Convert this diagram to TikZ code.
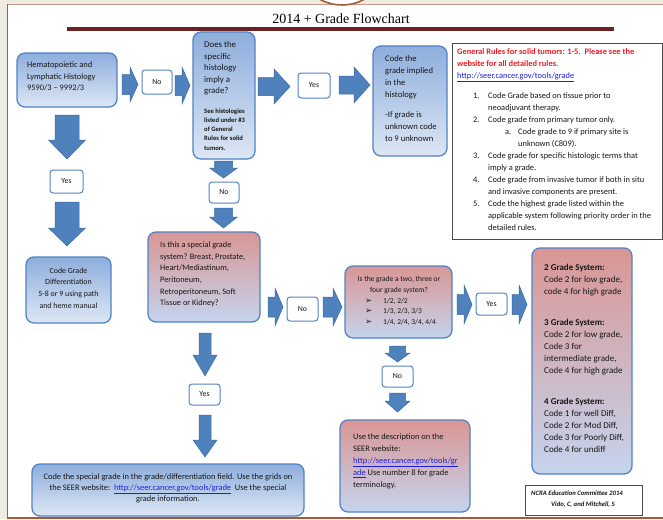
\documentclass[tikz,border=0pt]{standalone}
\usepackage{fontspec}
\setmainfont{Carlito}
\newfontfamily\titlefont{Liberation Serif}
\newfontfamily\symfont{DejaVu Sans}
\definecolor{pagebeige}{HTML}{EEEBE1}
\definecolor{topline}{HTML}{C49A8A}
\definecolor{leftline}{HTML}{A0603A}
\definecolor{bottomline}{HTML}{B5532F}
\definecolor{titlebar}{HTML}{6B2222}
\definecolor{boxline}{HTML}{5283C4}
\definecolor{bluetop}{HTML}{8EAEDC}
\definecolor{bluebot}{HTML}{DDE7F5}
\definecolor{redtop}{HTML}{D99694}
\definecolor{redbot}{HTML}{C5D4EE}
\definecolor{arrowblue}{HTML}{4F81BD}
\definecolor{arrowline}{HTML}{3D6BA6}
\definecolor{rulered}{HTML}{EE1C25}
\definecolor{linkblue}{HTML}{1F1FE0}
\definecolor{textgray}{HTML}{161616}
\tikzset{
  bluebox/.style={draw=boxline, line width=1.3pt, rounded corners=8pt, top color=bluetop, bottom color=bluebot, inner sep=0pt},
  redbox/.style={draw=boxline, line width=1.3pt, rounded corners=8pt, top color=redtop, bottom color=redbot, inner sep=0pt},
  tag/.style={draw=boxline, line width=1pt, fill=white, rounded corners=3pt, inner sep=0pt, font=\fontsize{7.8}{9}\selectfont, text=textgray},
  txt/.style={inner sep=0pt, align=left, anchor=north west, text=textgray},
  ctxt/.style={inner sep=0pt, align=center, text=textgray},
  blockarrow/.style={fill=arrowblue, draw=arrowline, line width=0.5pt},
  plainbox/.style={draw=black!70, line width=0.9pt, fill=white, inner sep=0pt}
}
\newcommand{\FCrarrow}[6]{% x0 x1 yc shafthalf headhalf headlen
  \filldraw[blockarrow] (#1,#3-#4) -- (#2-#6,#3-#4) -- (#2-#6,#3-#5) -- (#2,#3) -- (#2-#6,#3+#5) -- (#2-#6,#3+#4) -- (#1,#3+#4) -- cycle;}
\newcommand{\FCdarrow}[6]{% xc y0 y1 shafthalf headhalf headlen
  \filldraw[blockarrow] (#1-#4,#2) -- (#1-#4,#3-#6) -- (#1-#5,#3-#6) -- (#1,#3) -- (#1+#5,#3-#6) -- (#1+#4,#3-#6) -- (#1+#4,#2) -- cycle;}
\newcommand{\FCbul}{\makebox[18pt][l]{\symfont\fontsize{8.5}{8}\selectfont ➢}}
\begin{document}
\begin{tikzpicture}[x=1pt,y=-1pt]
\useasboundingbox (0,0) rectangle (663,519);
% page
\fill[pagebeige] (0,0) rectangle (663,519);
\fill[white] (7.5,4.5) rectangle (663,518);
\draw[topline, line width=1.4pt] (7.5,4.5) -- (663,4.5);
\draw[leftline, line width=1.2pt] (7.5,4.5) -- (7.5,519);
\draw[bottomline, line width=1.5pt] (7.5,518) -- (663,518);
\begin{scope}
\clip (0,0) rectangle (663,519);
\draw[leftline, line width=1.6pt, fill=white] (342,-41.6) circle (46.6);
\end{scope}
% title
\node[inner sep=0pt, font=\titlefont\fontsize{14}{16}\selectfont, text=black] (title) at (341,18.5) {2014 + Grade Flowchart};
\fill[titlebar] (67,27) rectangle (614,31);

% main boxes
\node[bluebox, minimum width=100pt, minimum height=54pt] (hema) at (67,80) {};
\node[bluebox, minimum width=62pt, minimum height=127pt] (hist) at (224,95.5) {};
\node[bluebox, minimum width=74pt, minimum height=110pt] (implied) at (410,101) {};
\node[plainbox, minimum width=210pt, minimum height=196pt] (rules) at (557,141) {};
\node[redbox, minimum width=112pt, minimum height=90pt] (special) at (204,277) {};
\node[bluebox, minimum width=85pt, minimum height=66pt] (codegrade) at (68.5,290) {};
\node[redbox, minimum width=107pt, minimum height=72pt] (twothree) at (398.5,302) {};
\node[redbox, minimum width=100pt, minimum height=226pt] (systems) at (582,361) {};
\node[redbox, minimum width=130pt, minimum height=92pt] (desc) at (405,466) {};
\node[plainbox, minimum width=117pt, minimum height=30pt] (ncra) at (583.5,500) {};
\node[bluebox, minimum width=272pt, minimum height=52pt] (specgrade) at (168,490) {};

% small tags
\node[tag, minimum width=30pt, minimum height=24pt] (no1) at (157,82) {No};
\node[tag, minimum width=32pt, minimum height=25pt] (yes1) at (314,85.5) {Yes};
\node[tag, minimum width=30pt, minimum height=21pt] (no2) at (224,192.5) {No};
\node[tag, minimum width=33pt, minimum height=23pt] (yesL) at (66.5,181.5) {Yes};
\node[tag, minimum width=31pt, minimum height=24pt] (no3) at (302.5,309) {No};
\node[tag, minimum width=31pt, minimum height=22pt] (yes2) at (491.5,304) {Yes};
\node[tag, minimum width=31pt, minimum height=21pt] (no4) at (397.5,376.5) {No};
\node[tag, minimum width=31pt, minimum height=21pt] (yes3) at (204.5,394.5) {Yes};

% block arrows
\FCrarrow{122}{138}{84.5}{10}{17.5}{8}
\FCrarrow{175}{190}{85.5}{10}{18.5}{8}
\FCrarrow{258}{290}{86.5}{9}{17.5}{16}
\FCrarrow{339}{370}{85}{9}{18}{16}
\FCrarrow{268}{283}{307}{10}{19}{8}
\FCrarrow{323}{342}{307}{10}{19}{9}
\FCrarrow{457}{472}{304.5}{10}{19.5}{8}
\FCrarrow{512}{527}{304.5}{10}{19.5}{8}
\FCdarrow{67}{115}{159}{12}{18.5}{19}
\FCdarrow{67}{202}{246}{12}{18.5}{18}
\FCdarrow{223.5}{161}{178}{9}{14}{10}
\FCdarrow{223.5}{208}{228}{9}{14}{11}
\FCdarrow{205}{333}{376}{6}{12}{21}
\FCdarrow{205}{415}{457}{6}{12}{17}
\FCdarrow{397.5}{346}{362}{8}{12.5}{9}
\FCdarrow{397.5}{393}{412}{8}{12.5}{11}

% texts
\node[txt, font=\fontsize{8.4}{11.5}\selectfont] (hema-t) at (27,61.5) {Hematopoietic and\\Lymphatic Histology\\9590/3 – 9992/3};
\node[txt, font=\fontsize{8.8}{11.5}\selectfont] (hist-t) at (204,41.3) {Does the\\specific\\histology\\imply a\\grade?};
\node[txt, font=\bfseries\fontsize{6.6}{9.3}\selectfont] (hist-s) at (204,108.2) {See histologies\\listed under \#3\\of General\\Rules for solid\\tumors.};
\node[txt, font=\fontsize{8.6}{12}\selectfont] (implied-t) at (385,55.4) {Code the\\grade implied\\in the\\histology\\[8pt]-If grade is\\unknown code\\to 9 unknown};
\node[txt, font=\fontsize{8.4}{12}\selectfont] (rules-t) at (457,48.5) {%
\textcolor{rulered}{\bfseries General Rules for solid tumors: 1-5.\ \ Please see the}\\
\textcolor{rulered}{\bfseries website for all detailed rules.}\\
\textcolor{linkblue}{\underline{http://seer.cancer.gov/tools/grade}}\\[8pt]
\hspace*{16pt}\makebox[15pt][l]{1.}Code Grade based on tissue prior to\\
\hspace*{31pt}neoadjuvant therapy.\\
\hspace*{16pt}\makebox[15pt][l]{2.}Code grade from primary tumor only.\\
\hspace*{48pt}\makebox[13pt][l]{a.}Code grade to 9 if primary site is\\
\hspace*{61pt}unknown (C809).\\
\hspace*{16pt}\makebox[15pt][l]{3.}Code grade for specific histologic terms that\\
\hspace*{31pt}imply a grade.\\
\hspace*{16pt}\makebox[15pt][l]{4.}Code grade from invasive tumor if both in situ\\
\hspace*{31pt}and invasive components are present.\\
\hspace*{16pt}\makebox[15pt][l]{5.}Code the highest grade listed within the\\
\hspace*{31pt}applicable system following priority order in the\\
\hspace*{31pt}detailed rules.};
\node[txt, font=\fontsize{8.3}{11.7}\selectfont] (special-t) at (160,241.5) {Is this a special grade\\system? Breast, Prostate,\\Heart/Mediastinum,\\Peritoneum,\\Retroperitoneum, Soft\\Tissue or Kidney?};
\node[ctxt, font=\fontsize{7.9}{11.7}\selectfont] (codegrade-t) at (68.5,288) {Code Grade\\Differentiation\\5-8 or 9 using path\\and heme manual};
\node[ctxt, font=\fontsize{7.5}{10.5}\selectfont] (twothree-t) at (399,285) {Is the grade a two, three or\\four grade system?};
\node[txt, font=\fontsize{7.5}{10.5}\selectfont] (twothree-b) at (365,297.8) {%
\FCbul 1/2, 2/2\\
\FCbul 1/3, 2/3, 3/3\\
\FCbul 1/4, 2/4, 3/4, 4/4};
\node[txt, font=\fontsize{9}{11.9}\selectfont] (systems-t) at (544,264.2) {%
\textbf{2 Grade System:}\\Code 2 for low grade,\\code 4 for high grade\\[19pt]
\textbf{3 Grade System:}\\Code 2 for low grade,\\Code 3 for\\intermediate grade,\\Code 4 for high grade\\[20pt]
\textbf{4 Grade System:}\\Code 1 for well Diff,\\Code 2 for Mod Diff,\\Code 3 for Poorly Diff,\\Code 4 for undiff};
\node[txt, font=\fontsize{8.4}{12}\selectfont] (desc-t) at (353,433.5) {Use the description on the\\SEER website:\\\textcolor{linkblue}{\underline{http://seer.cancer.gov/tools/gr}}\\\textcolor{linkblue}{\underline{ade}} Use number 8 for grade\\terminology.};
\node[ctxt, font=\fontsize{8.4}{11}\selectfont] (specgrade-t) at (168,488) {Code the special grade in the grade/differentiation field. Use the grids on\\the SEER website:\ \ \textcolor{linkblue}{\underline{http://seer.cancer.gov/tools/grade}}\ \ Use the special\\grade information.};
\node[txt, font=\bfseries\itshape\fontsize{6.7}{11}\selectfont] (ncra-t) at (531,490.5) {NCRA Education Committee 2014\\\hspace*{20pt}Vido, C, and Mitchell, S};
\end{tikzpicture}
\end{document}
